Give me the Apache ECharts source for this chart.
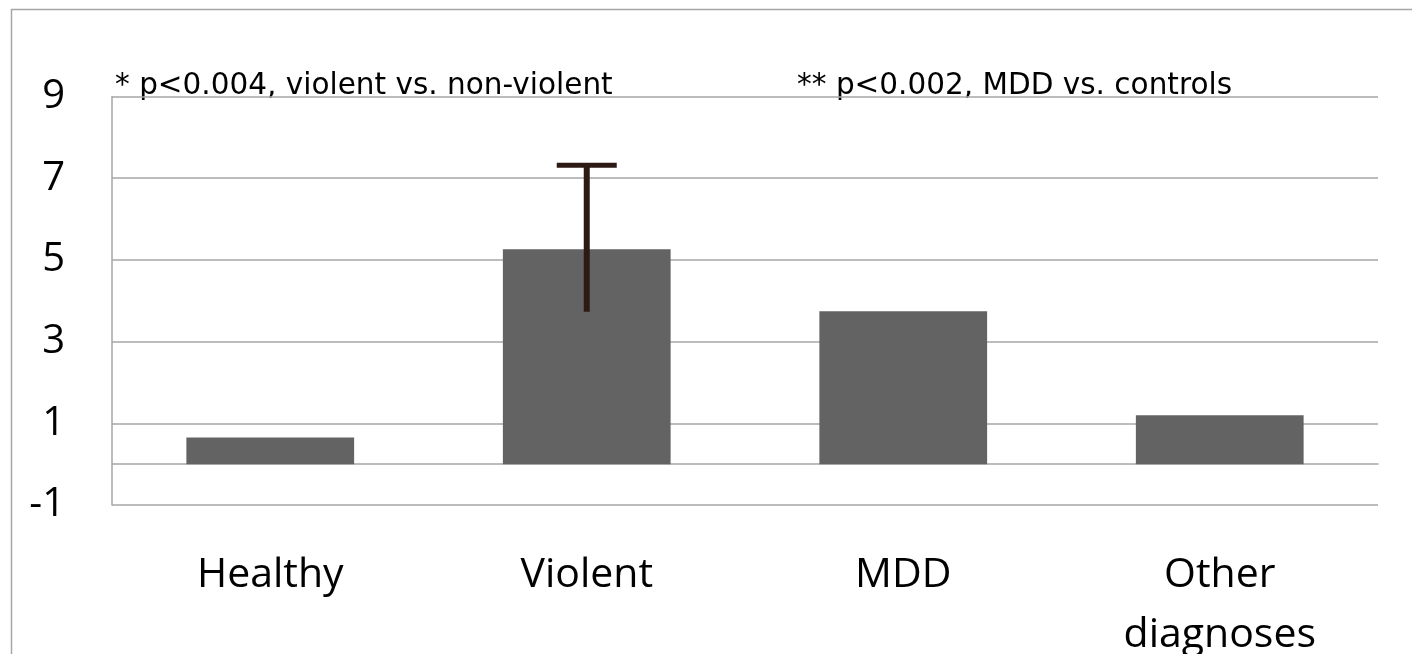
<!DOCTYPE html>
<html>
<head>
<meta charset="utf-8">
<script src="https://cdn.jsdelivr.net/npm/echarts@6/dist/echarts.min.js"></script>
<style>
html,body{margin:0;padding:0;background:#fff;overflow:hidden;}
#chart{width:1412px;height:654px;}
</style>
</head>
<body>
<div id="chart"></div>
<script>
const categories = ['Healthy', 'Violent', 'MDD', 'Other\ndiagnoses'];
const values = [0.65, 5.26, 3.74, 1.2];
const errorBars = [[1, 3.73, 7.32]]; // [category index, low, high]
const yMin = -1, yMax = 9, yInterval = 2;
const note1 = '* p<0.004, violent vs. non-violent';
const note2 = '** p<0.002, MDD vs. controls';

const FONT = '"Open Sans", "Noto Sans", sans-serif';
const NOTE_FONT = '"DejaVu Sans", sans-serif';
const GRID = '#a6a6a6';

const chart = echarts.init(document.getElementById('chart'), null, {renderer: 'canvas', width: 1412, height: 654});
chart.setOption({
  animation: false,
  backgroundColor: '#fff',
  grid: {left: 112, top: 96.5, width: 1266, height: 408.5, containLabel: false, outerBoundsMode: 'none'},
  xAxis: {
    type: 'category',
    data: categories,
    axisLine: {show: true, onZero: true, lineStyle: {color: GRID, width: 1.5}},
    axisTick: {show: false},
    axisLabel: {color: '#000', fontFamily: FONT, fontSize: 41, lineHeight: 60, margin: 40, interval: 0}
  },
  yAxis: {
    type: 'value',
    min: yMin, max: yMax, interval: yInterval,
    axisLine: {show: true, lineStyle: {color: GRID, width: 1.5}},
    axisTick: {show: false},
    splitLine: {show: true, lineStyle: {color: GRID, width: 1.5}},
    axisLabel: {color: '#000', fontFamily: FONT, fontSize: 40, margin: 47}
  },
  series: [
    {
      type: 'bar',
      data: values,
      barWidth: '53%',
      itemStyle: {color: '#636363'},
      z: 2
    },
    {
      type: 'custom',
      data: errorBars,
      z: 5,
      renderItem: function (params, api) {
        const x = api.value(0);
        const lo = api.coord([x, api.value(1)]);
        const hi = api.coord([x, api.value(2)]);
        const half = 30;
        return {
          type: 'group',
          children: [
            {type: 'line', shape: {x1: lo[0], y1: lo[1], x2: hi[0], y2: hi[1]}, style: {stroke: '#2d1a14', lineWidth: 6}},
            {type: 'line', shape: {x1: hi[0] - half, y1: hi[1], x2: hi[0] + half, y2: hi[1]}, style: {stroke: '#2d1a14', lineWidth: 5}}
          ]
        };
      }
    }
  ],
  graphic: [
    {type: 'rect', left: 9, top: 7, shape: {width: 1500, height: 800}, style: {fill: 'none', stroke: '#a6a6a6', lineWidth: 1.5}, silent: true, z: -10},
    {type: 'text', left: 115, top: 71, style: {text: note1, font: '29.5px ' + NOTE_FONT, fill: '#000'}},
    {type: 'text', left: 797, top: 71, style: {text: note2, font: '29.5px ' + NOTE_FONT, fill: '#000'}}
  ]
});
</script>
</body>
</html>
